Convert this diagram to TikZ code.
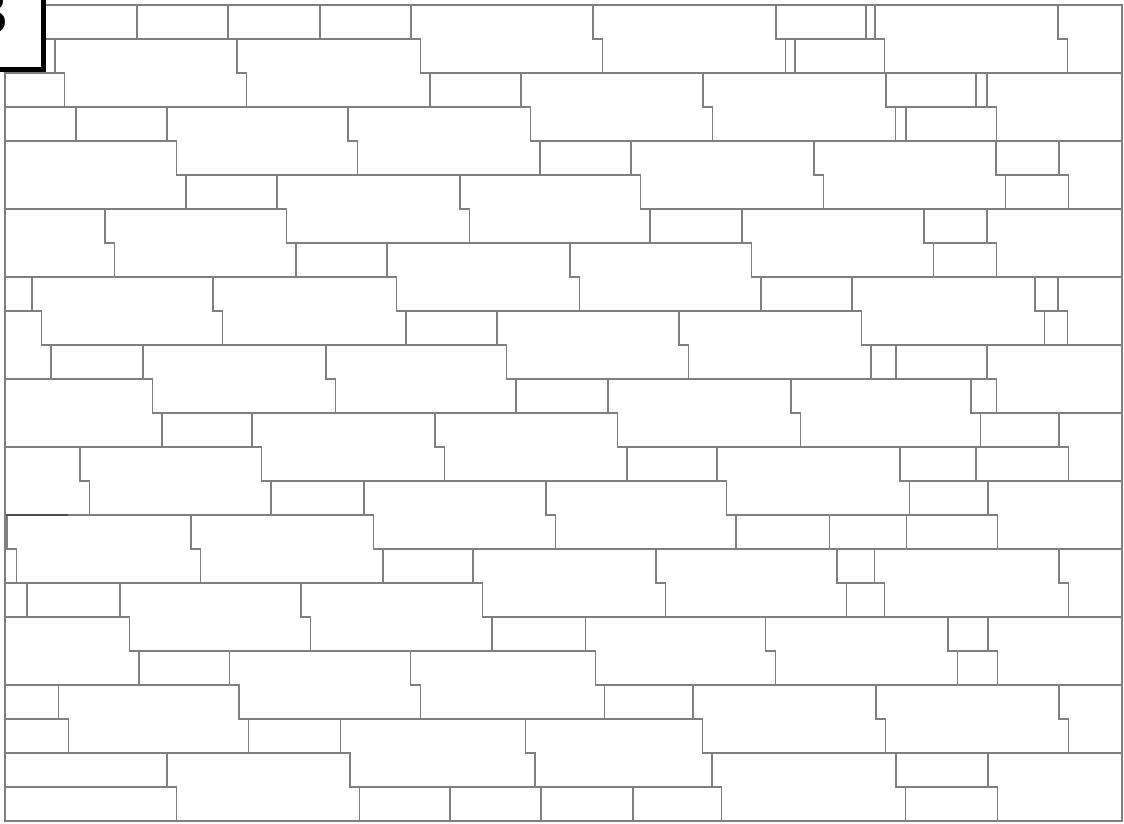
\documentclass[tikz,border=0pt]{standalone}
\usepackage{tikz}
\definecolor{bjoint}{HTML}{7F7F7F}
\definecolor{bframe}{HTML}{000000}

% one course is 34 units high, wall top at 5; a stretcher spans two courses
% and steps right by \brickstep at its middle joint
\newcommand{\brickstep}{9.5}
\tikzset{
  joint/.style={draw=bjoint, line width=1.2pt, line join=miter},
  wallframe/.style={draw=bjoint, line width=1.3pt},
  tagbox/.style={draw=bframe, line width=5pt, fill=white},
}

\begin{document}
\begin{tikzpicture}[x=1pt, y=-1pt]
  \useasboundingbox (0,0) rectangle (1124,823);

  \begin{scope}
    \clip (5,5) rectangle (1122,821);

    % header bricks: one course
    \foreach \r/\a/\b in {
      0/-50/137, 0/137/228, 0/228/320, 0/320/411, 0/776/866, 0/866/875,
      1/-50/55, 1/785.5/795, 1/795/884.5,
      2/-50/64.5, 2/430/521, 2/886/976, 2/976/987,
      3/-50/76, 3/76/167, 3/895.5/906, 3/906/996.5,
      4/540/631, 4/996/1059,
      5/186/277, 5/1005.5/1068.5,
      6/650/742, 6/924/987,
      7/296/387, 7/933.5/996.5,
      8/-50/32, 8/761/852, 8/1035/1058,
      9/406/497, 9/1044.5/1067.5,
      10/51/143, 10/871/896, 10/896/987,
      11/516/608, 11/971/996.5,
      12/162/252, 12/980.5/1059,
      13/627/717, 13/900/976, 13/976/1068.5,
      14/271/364, 14/909.5/988,
      15/736/829.4, 15/829.4/906.8, 15/906.8/997.5,
      16/383/473, 16/837/874.6,
      17/-50/27, 17/27/120, 17/846.5/884.1,
      18/492/585.7, 18/948/988,
      19/139/229.4, 19/957.5/997.5,
      20/-50/58.8, 20/604.7/693,
      21/-50/68.3, 21/248.4/340.5,
      22/-50/167, 22/896/988,
      23/-50/176.5, 23/359.5/450, 23/450/541, 23/541/633, 23/633/721.5, 23/905.5/997.5}
      \draw[joint] (\a,{5+34*\r}) rectangle (\b,{39+34*\r});

    % stretchers: two courses, stepped at the middle joint
    \foreach \r/\a/\b in {
      0/411/593, 0/593/776, 0/875/1058, 0/1058/1240,
      1/55/237, 1/237/420.5,
      2/521/703, 2/703/886, 2/987/1170,
      3/167/348, 3/348/530.5,
      4/-200/176.5, 4/631/814, 4/814/996, 4/1059/1242,
      5/277/460, 5/460/640.5,
      6/-200/105, 6/105/286.5, 6/742/924, 6/987/1170,
      7/387/570, 7/570/751.5,
      8/32/213, 8/213/396.5, 8/852/1035, 8/1058/1240,
      9/-200/41.5, 9/497/679, 9/679/861.5,
      10/143/326, 10/326/506.5, 10/987/1170,
      11/-200/152.5, 11/608/791, 11/791/971,
      12/252/435, 12/435/617.5, 12/1059/1242,
      13/-200/80, 13/80/261.5, 13/717/900,
      14/364/546, 14/546/726.5, 14/988/1170,
      15/-200/7, 15/7/191, 15/191/373.5,
      16/473/656, 16/656/837, 16/874.6/1059, 16/1059/1242,
      17/120/301, 17/301/482.5,
      18/-200/129.5, 18/585.7/765.6, 18/765.6/948, 18/988/1170,
      19/229.4/410.8, 19/410.8/595.2,
      20/58.8/238.9, 20/693/876, 20/876/1059, 20/1059/1242,
      21/340.5/525.5, 21/525.5/702.5,
      22/167/350, 22/712/896, 22/988/1170}
      \draw[joint] (\a,{5+34*\r}) -- (\b,{5+34*\r}) -- (\b,{39+34*\r})
        -- ({\b+\brickstep},{39+34*\r}) -- ({\b+\brickstep},{73+34*\r})
        -- ({\a+\brickstep},{73+34*\r}) -- ({\a+\brickstep},{39+34*\r})
        -- (\a,{39+34*\r}) -- cycle;

    % the odd dark joint at the left of course 15
    \draw[bjoint!60!black, line width=1.8pt] (5,515) -- (68,515);
  \end{scope}

  % wall outline
  \draw[wallframe] (5,5) rectangle (1122,821);

  % panel tag, cut by the page edge
  \draw[tagbox] (-10,-10) rectangle (43,69);
  \node[inner sep=0pt, anchor=east, font=\fontsize{64}{64}\selectfont\sffamily\bfseries]
    (tag) at (10,12) {B};
\end{tikzpicture}
\end{document}
